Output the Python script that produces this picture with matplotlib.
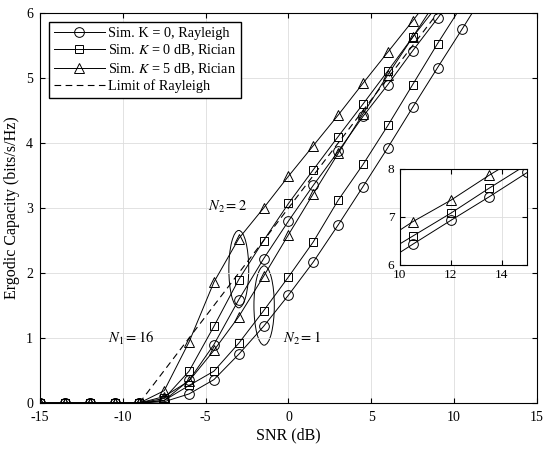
import matplotlib
matplotlib.use('Agg')
import matplotlib.pyplot as plt
from matplotlib.patches import Ellipse
import numpy as np

plt.rcParams['font.family'] = ['Liberation Serif', 'DejaVu Serif']
plt.rcParams['mathtext.fontset'] = 'stix'
plt.rcParams['axes.unicode_minus'] = False

snr = np.arange(-15, 15.01, 1.5)
zeros = [0.0] * 5

# N2 = 2
ray_2 = zeros + [0.04, 0.35, 0.90, 1.59, 2.22, 2.80, 3.35, 3.87, 4.41, 4.90, 5.42, 5.92, 6.43, 6.93, 7.42, 7.93]
ric0_2 = zeros + [0.07, 0.49, 1.18, 1.90, 2.50, 3.07, 3.59, 4.10, 4.60, 5.11, 5.63, 6.12, 6.60, 7.08, 7.60, 8.10]
ric5_2 = zeros + [0.19, 0.94, 1.86, 2.53, 3.00, 3.49, 3.96, 4.43, 4.92, 5.40, 5.88, 6.38, 6.90, 7.35, 7.87, 8.35]
# N2 = 1
ray_1 = zeros + [0.02, 0.14, 0.36, 0.75, 1.18, 1.66, 2.17, 2.74, 3.33, 3.93, 4.55, 5.16, 5.76, 6.37, 6.97, 7.57]
ric0_1 = zeros + [0.04, 0.27, 0.49, 0.92, 1.42, 1.94, 2.48, 3.12, 3.67, 4.27, 4.90, 5.53, 6.13, 6.73, 7.33, 7.93]
ric5_1 = zeros + [0.10, 0.34, 0.81, 1.33, 1.95, 2.59, 3.22, 3.84, 4.45, 5.05, 5.63, 6.22, 6.80, 7.40, 8.00, 8.60]

# limit of Rayleigh
snr_lim = snr[4:]
limit = [0.0, 0.5, 1.0, 1.5, 2.0, 2.5, 3.0, 3.5, 4.0, 4.5, 5.0, 5.5, 6.0, 6.5, 7.0, 7.5, 8.0]

labels = ['Sim. K = 0, Rayleigh', r'Sim. $K$ = 0 dB, Rician', r'Sim. $K$ = 5 dB, Rician', 'Limit of Rayleigh']
markers = ['o', 's', '^']
msize = [7, 6.3, 7]

fig = plt.figure(figsize=(5.5, 4.54), dpi=100)
ax = fig.add_axes([0.0727, 0.1123, 0.9036, 0.859])

for i, (y2, y1) in enumerate([(ray_2, ray_1), (ric0_2, ric0_1), (ric5_2, ric5_1)]):
    sty = dict(color='black', lw=0.7, marker=markers[i], markersize=msize[i],
               markerfacecolor='none', markeredgewidth=0.7)
    ax.plot(snr, y2, label=labels[i], **sty)
    ax.plot(snr, y1, **sty)
ax.plot(snr_lim, limit, color='black', lw=0.8, dashes=(6, 4), label=labels[3])

ax.add_patch(Ellipse((-3, 2.06), 1.2, 1.19, fill=False, color='black', lw=0.7))
ax.add_patch(Ellipse((-1.47, 1.5), 1.23, 1.22, fill=False, color='black', lw=0.7))
ax.text(-3.7, 3.02, r'$N_2 = 2$', fontsize=10.5, ha='center', va='center')
ax.text(-9.5, 1.0, r'$N_1 = 16$', fontsize=10.5, ha='center', va='center')
ax.text(0.8, 1.0, r'$N_2 = 1$', fontsize=10.5, ha='center', va='center')

ax.set_xlim(-15, 15)
ax.set_ylim(0, 6)
ax.set_xticks(range(-15, 16, 5))
ax.set_yticks(range(0, 7))
ax.grid(True, color='#dddddd', lw=0.6)
ax.tick_params(direction='in', top=True, right=True, labelsize=10)
ax.tick_params(axis='x', pad=6)
ax.tick_params(axis='y', pad=5)
ax.set_xlabel('SNR (dB)', fontsize=11.5, labelpad=2)
ax.set_ylabel('Ergodic Capacity (bits/s/Hz)', fontsize=11.5, labelpad=4)
ax.legend(loc='upper left', fontsize=10.3, handlelength=3.6, fancybox=False,
          edgecolor='black', framealpha=1, borderaxespad=0.6, labelspacing=0.2,
          borderpad=0.35, handletextpad=0.2)

# inset
axi = fig.add_axes([0.727, 0.4163, 0.232, 0.2115])
for i, y2 in enumerate([ray_2, ric0_2, ric5_2]):
    axi.plot(snr, y2, color='black', lw=0.7, marker=markers[i], markersize=msize[i],
             markerfacecolor='none', markeredgewidth=0.7)
axi.set_xlim(10, 15)
axi.set_ylim(6, 8)
axi.set_xticks([10, 12, 14])
axi.set_yticks([6, 7, 8])
axi.grid(True, color='#dddddd', lw=0.6)
axi.tick_params(direction='in', top=True, right=True, labelsize=9.5)
axi.tick_params(axis='x', pad=3)
axi.tick_params(axis='y', pad=4)

plt.savefig('out.png')
